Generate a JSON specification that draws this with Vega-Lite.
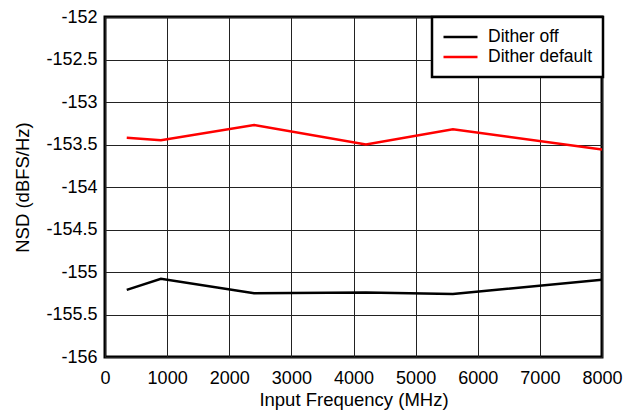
{
  "$schema": "https://vega.github.io/schema/vega-lite/v6.json",
  "autosize": "none",
  "width": 497,
  "height": 340,
  "padding": {"left": 105, "top": 17, "right": 27, "bottom": 55},
  "background": "white",
  "config": {
    "font": "Liberation Sans",
    "view": {"stroke": "black", "strokeWidth": 3},
    "axis": {
      "domain": false,
      "ticks": false,
      "grid": true,
      "gridColor": "#222222",
      "gridWidth": 1,
      "gridOpacity": 1,
      "labelFont": "Liberation Sans",
      "labelFontSize": 18,
      "labelColor": "black",
      "titleFont": "Liberation Sans",
      "titleFontSize": 18.5,
      "titleFontWeight": "normal",
      "titleColor": "black"
    }
  },
  "data": {
    "values": [
      {"freq": 350, "nsd": -155.21, "series": "Dither off"},
      {"freq": 900, "nsd": -155.08, "series": "Dither off"},
      {"freq": 2400, "nsd": -155.25, "series": "Dither off"},
      {"freq": 4200, "nsd": -155.24, "series": "Dither off"},
      {"freq": 5600, "nsd": -155.26, "series": "Dither off"},
      {"freq": 8000, "nsd": -155.09, "series": "Dither off"},
      {"freq": 350, "nsd": -153.42, "series": "Dither default"},
      {"freq": 900, "nsd": -153.45, "series": "Dither default"},
      {"freq": 2400, "nsd": -153.27, "series": "Dither default"},
      {"freq": 4200, "nsd": -153.5, "series": "Dither default"},
      {"freq": 5600, "nsd": -153.32, "series": "Dither default"},
      {"freq": 8000, "nsd": -153.56, "series": "Dither default"}
    ]
  },
  "mark": {"type": "line", "strokeWidth": 2.5, "clip": true},
  "encoding": {
    "x": {
      "field": "freq",
      "type": "quantitative",
      "scale": {"domain": [0, 8000], "nice": false, "zero": false},
      "axis": {"values": [0, 1000, 2000, 3000, 4000, 5000, 6000, 7000, 8000], "labelExpr": "'' + datum.value", "labelPadding": 12, "title": "Input Frequency (MHz)", "titlePadding": 3, "labelFlush": false}
    },
    "y": {
      "field": "nsd",
      "type": "quantitative",
      "scale": {"domain": [-156, -152], "nice": false, "zero": false},
      "axis": {"values": [-156, -155.5, -155, -154.5, -154, -153.5, -153, -152.5, -152], "labelExpr": "'' + datum.value", "labelPadding": 8, "title": "NSD (dBFS/Hz)", "titlePadding": 13, "labelFlush": false}
    },
    "color": {
      "field": "series",
      "type": "nominal",
      "sort": ["Dither off", "Dither default"],
      "scale": {"domain": ["Dither off", "Dither default"], "range": ["#000000", "#ff0000"]},
      "legend": {
        "title": null,
        "orient": "none",
        "legendX": 327,
        "legendY": 0,
        "strokeColor": "black",
        "fillColor": "white",
        "padding": 10,
        "symbolType": "stroke",
        "symbolSize": 1156,
        "symbolStrokeWidth": 2.5,
        "clipHeight": 20,
        "labelFont": "Liberation Sans",
        "labelFontSize": 17.5,
        "labelColor": "black",
        "labelOffset": 9,
        "rowPadding": 0,
        "encode": {"legend": {"update": {"strokeWidth": {"value": 2.5}}}}
      }
    }
  }
}
